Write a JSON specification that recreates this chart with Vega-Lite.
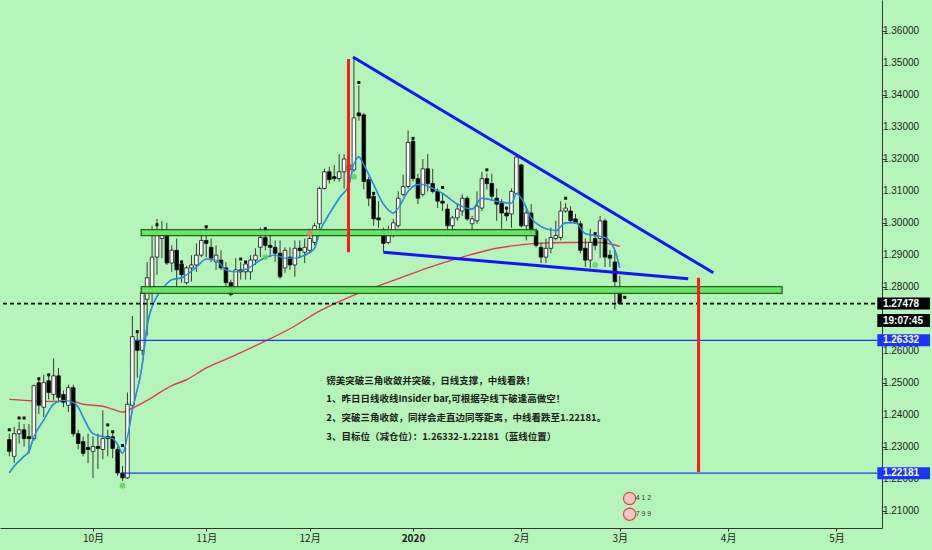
{
  "$schema": "https://vega.github.io/schema/vega-lite/v6.json",
  "width": 882,
  "height": 528,
  "autosize": {"type": "none"},
  "padding": {"left": 0, "top": 0, "right": 50, "bottom": 22},
  "background": "#b6f5b9",
  "config": {
    "view": {"stroke": null},
    "font": "Liberation Sans",
    "axis": {"grid": false},
    "axisX": {"labelOverlap": false}
  },
  "resolve": {"scale": {"color": "independent"}},
  "datasets": {
    "candles": [
      {"i": -17, "o": 1.23229, "h": 1.23413, "l": 1.22708, "c": 1.22862},
      {"i": -16, "o": 1.22708, "h": 1.23628, "l": 1.22494, "c": 1.23413},
      {"i": -15, "o": 1.23413, "h": 1.23781, "l": 1.23107, "c": 1.23536},
      {"i": -14, "o": 1.23536, "h": 1.23720, "l": 1.23015, "c": 1.23260},
      {"i": -13, "o": 1.23321, "h": 1.23720, "l": 1.22800, "c": 1.23260},
      {"i": -12, "o": 1.23260, "h": 1.24946, "l": 1.23199, "c": 1.24915},
      {"i": -11, "o": 1.25007, "h": 1.25160, "l": 1.24026, "c": 1.24302},
      {"i": -10, "o": 1.24241, "h": 1.25252, "l": 1.23934, "c": 1.25007},
      {"i": -9, "o": 1.25068, "h": 1.25252, "l": 1.24486, "c": 1.24700},
      {"i": -8, "o": 1.24639, "h": 1.25773, "l": 1.24455, "c": 1.25221},
      {"i": -7, "o": 1.25221, "h": 1.25467, "l": 1.24394, "c": 1.24547},
      {"i": -6, "o": 1.24639, "h": 1.24762, "l": 1.24241, "c": 1.24394},
      {"i": -5, "o": 1.24302, "h": 1.24946, "l": 1.24088, "c": 1.24854},
      {"i": -4, "o": 1.24854, "h": 1.24946, "l": 1.23321, "c": 1.23413},
      {"i": -3, "o": 1.23413, "h": 1.23536, "l": 1.22923, "c": 1.23107},
      {"i": -2, "o": 1.23168, "h": 1.23321, "l": 1.22708, "c": 1.22800},
      {"i": -1, "o": 1.22984, "h": 1.23413, "l": 1.22494, "c": 1.22923},
      {"i": 0, "o": 1.22862, "h": 1.23321, "l": 1.22034, "c": 1.23015},
      {"i": 1, "o": 1.23015, "h": 1.23413, "l": 1.22310, "c": 1.22954},
      {"i": 2, "o": 1.22923, "h": 1.24149, "l": 1.22616, "c": 1.23260},
      {"i": 3, "o": 1.23321, "h": 1.23536, "l": 1.22708, "c": 1.23260},
      {"i": 4, "o": 1.23321, "h": 1.23475, "l": 1.22647, "c": 1.22954},
      {"i": 5, "o": 1.22923, "h": 1.23015, "l": 1.22095, "c": 1.22187},
      {"i": 6, "o": 1.22187, "h": 1.22402, "l": 1.21942, "c": 1.22034},
      {"i": 7, "o": 1.22034, "h": 1.24700, "l": 1.22004, "c": 1.24333},
      {"i": 8, "o": 1.24302, "h": 1.27091, "l": 1.24149, "c": 1.26447},
      {"i": 9, "o": 1.26325, "h": 1.26631, "l": 1.25160, "c": 1.26018},
      {"i": 10, "o": 1.26018, "h": 1.27918, "l": 1.25865, "c": 1.27826},
      {"i": 11, "o": 1.27612, "h": 1.28777, "l": 1.26478, "c": 1.28286},
      {"i": 12, "o": 1.27980, "h": 1.29910, "l": 1.27520, "c": 1.28930},
      {"i": 13, "o": 1.28930, "h": 1.30125, "l": 1.28378, "c": 1.29665},
      {"i": 14, "o": 1.29512, "h": 1.30063, "l": 1.28899, "c": 1.29604},
      {"i": 15, "o": 1.29604, "h": 1.30002, "l": 1.28685, "c": 1.28746},
      {"i": 16, "o": 1.28746, "h": 1.29298, "l": 1.28470, "c": 1.29144},
      {"i": 17, "o": 1.29144, "h": 1.29512, "l": 1.27918, "c": 1.28531},
      {"i": 18, "o": 1.28715, "h": 1.28838, "l": 1.28133, "c": 1.28378},
      {"i": 19, "o": 1.28133, "h": 1.28654, "l": 1.28072, "c": 1.28593},
      {"i": 20, "o": 1.28593, "h": 1.28991, "l": 1.28164, "c": 1.28685},
      {"i": 21, "o": 1.28685, "h": 1.29359, "l": 1.28470, "c": 1.28991},
      {"i": 22, "o": 1.28991, "h": 1.29757, "l": 1.28930, "c": 1.29451},
      {"i": 23, "o": 1.29451, "h": 1.29880, "l": 1.28930, "c": 1.29359},
      {"i": 24, "o": 1.29236, "h": 1.29512, "l": 1.28777, "c": 1.28899},
      {"i": 25, "o": 1.28777, "h": 1.29298, "l": 1.28531, "c": 1.28991},
      {"i": 26, "o": 1.28838, "h": 1.29144, "l": 1.28531, "c": 1.28593},
      {"i": 27, "o": 1.28593, "h": 1.28777, "l": 1.28010, "c": 1.28133},
      {"i": 28, "o": 1.28133, "h": 1.28225, "l": 1.27704, "c": 1.27765},
      {"i": 29, "o": 1.27980, "h": 1.28899, "l": 1.27918, "c": 1.28531},
      {"i": 30, "o": 1.28531, "h": 1.28777, "l": 1.28225, "c": 1.28470},
      {"i": 31, "o": 1.28470, "h": 1.28777, "l": 1.28225, "c": 1.28715},
      {"i": 32, "o": 1.28470, "h": 1.28991, "l": 1.28225, "c": 1.28838},
      {"i": 33, "o": 1.28838, "h": 1.29206, "l": 1.28685, "c": 1.28991},
      {"i": 34, "o": 1.29236, "h": 1.29849, "l": 1.28930, "c": 1.29543},
      {"i": 35, "o": 1.29543, "h": 1.29757, "l": 1.29144, "c": 1.29298},
      {"i": 36, "o": 1.29298, "h": 1.29665, "l": 1.28930, "c": 1.29236},
      {"i": 37, "o": 1.29236, "h": 1.29451, "l": 1.28777, "c": 1.29052},
      {"i": 38, "o": 1.29052, "h": 1.29451, "l": 1.28256, "c": 1.28317},
      {"i": 39, "o": 1.28593, "h": 1.29236, "l": 1.28439, "c": 1.29144},
      {"i": 40, "o": 1.28930, "h": 1.29236, "l": 1.28531, "c": 1.28685},
      {"i": 41, "o": 1.28685, "h": 1.29451, "l": 1.28317, "c": 1.29206},
      {"i": 42, "o": 1.29206, "h": 1.29451, "l": 1.28899, "c": 1.29144},
      {"i": 43, "o": 1.29083, "h": 1.29512, "l": 1.28746, "c": 1.29236},
      {"i": 44, "o": 1.29144, "h": 1.29819, "l": 1.29052, "c": 1.29512},
      {"i": 45, "o": 1.29389, "h": 1.30002, "l": 1.29298, "c": 1.29910},
      {"i": 46, "o": 1.29972, "h": 1.31136, "l": 1.29819, "c": 1.31075},
      {"i": 47, "o": 1.31075, "h": 1.31688, "l": 1.31044, "c": 1.31596},
      {"i": 48, "o": 1.31596, "h": 1.31749, "l": 1.31228, "c": 1.31351},
      {"i": 49, "o": 1.31443, "h": 1.31811, "l": 1.31290, "c": 1.31382},
      {"i": 50, "o": 1.31382, "h": 1.32148, "l": 1.31290, "c": 1.31596},
      {"i": 51, "o": 1.31596, "h": 1.32148, "l": 1.31075, "c": 1.31994},
      {"i": 52, "o": 1.31657, "h": 1.31964, "l": 1.31535, "c": 1.31811},
      {"i": 53, "o": 1.31657, "h": 1.35182, "l": 1.31596, "c": 1.33282},
      {"i": 54, "o": 1.33435, "h": 1.34293, "l": 1.33190, "c": 1.33343},
      {"i": 55, "o": 1.33374, "h": 1.33435, "l": 1.31044, "c": 1.31290},
      {"i": 56, "o": 1.31351, "h": 1.31443, "l": 1.30523, "c": 1.30769},
      {"i": 57, "o": 1.30830, "h": 1.30922, "l": 1.29910, "c": 1.30125},
      {"i": 58, "o": 1.30156, "h": 1.30677, "l": 1.29849, "c": 1.30094},
      {"i": 59, "o": 1.29757, "h": 1.29849, "l": 1.29083, "c": 1.29359},
      {"i": 60, "o": 1.29389, "h": 1.29910, "l": 1.29328, "c": 1.29604},
      {"i": 61, "o": 1.29604, "h": 1.30125, "l": 1.29543, "c": 1.30002},
      {"i": 62, "o": 1.29910, "h": 1.30983, "l": 1.29849, "c": 1.30769},
      {"i": 63, "o": 1.30891, "h": 1.31504, "l": 1.30830, "c": 1.31136},
      {"i": 64, "o": 1.31136, "h": 1.32883, "l": 1.31075, "c": 1.32515},
      {"i": 65, "o": 1.32546, "h": 1.32669, "l": 1.31290, "c": 1.31382},
      {"i": 66, "o": 1.31382, "h": 1.31535, "l": 1.30585, "c": 1.30769},
      {"i": 67, "o": 1.30891, "h": 1.31994, "l": 1.30830, "c": 1.31688},
      {"i": 68, "o": 1.31688, "h": 1.32148, "l": 1.30983, "c": 1.31228},
      {"i": 69, "o": 1.31228, "h": 1.31688, "l": 1.30922, "c": 1.30983},
      {"i": 70, "o": 1.30983, "h": 1.31075, "l": 1.30462, "c": 1.30677},
      {"i": 71, "o": 1.30677, "h": 1.30922, "l": 1.30370, "c": 1.30615},
      {"i": 72, "o": 1.30431, "h": 1.30585, "l": 1.29604, "c": 1.29910},
      {"i": 73, "o": 1.29910, "h": 1.30217, "l": 1.29604, "c": 1.30156},
      {"i": 74, "o": 1.30156, "h": 1.30615, "l": 1.30063, "c": 1.30431},
      {"i": 75, "o": 1.30370, "h": 1.30891, "l": 1.30217, "c": 1.30769},
      {"i": 76, "o": 1.30769, "h": 1.30830, "l": 1.30063, "c": 1.30125},
      {"i": 77, "o": 1.29972, "h": 1.30217, "l": 1.29757, "c": 1.30125},
      {"i": 78, "o": 1.30063, "h": 1.30983, "l": 1.29972, "c": 1.30523},
      {"i": 79, "o": 1.30462, "h": 1.31596, "l": 1.30370, "c": 1.31382},
      {"i": 80, "o": 1.31382, "h": 1.31535, "l": 1.31044, "c": 1.31228},
      {"i": 81, "o": 1.31228, "h": 1.31535, "l": 1.30738, "c": 1.30830},
      {"i": 82, "o": 1.30769, "h": 1.31075, "l": 1.30063, "c": 1.30585},
      {"i": 83, "o": 1.30615, "h": 1.30738, "l": 1.29819, "c": 1.30309},
      {"i": 84, "o": 1.30309, "h": 1.30462, "l": 1.30063, "c": 1.30217},
      {"i": 85, "o": 1.30278, "h": 1.31075, "l": 1.29849, "c": 1.30983},
      {"i": 86, "o": 1.30922, "h": 1.32117, "l": 1.30891, "c": 1.32056},
      {"i": 87, "o": 1.31811, "h": 1.31841, "l": 1.29849, "c": 1.29910},
      {"i": 88, "o": 1.29910, "h": 1.30523, "l": 1.29451, "c": 1.30309},
      {"i": 89, "o": 1.30309, "h": 1.30585, "l": 1.29604, "c": 1.29665},
      {"i": 90, "o": 1.29757, "h": 1.29819, "l": 1.29236, "c": 1.29298},
      {"i": 91, "o": 1.29236, "h": 1.29389, "l": 1.28746, "c": 1.28930},
      {"i": 92, "o": 1.28930, "h": 1.29512, "l": 1.28746, "c": 1.29206},
      {"i": 93, "o": 1.29206, "h": 1.29849, "l": 1.29052, "c": 1.29543},
      {"i": 94, "o": 1.29512, "h": 1.30063, "l": 1.29451, "c": 1.29604},
      {"i": 95, "o": 1.29543, "h": 1.30677, "l": 1.29451, "c": 1.30370},
      {"i": 96, "o": 1.30370, "h": 1.30615, "l": 1.30309, "c": 1.30462},
      {"i": 97, "o": 1.30370, "h": 1.30523, "l": 1.30002, "c": 1.30063},
      {"i": 98, "o": 1.30125, "h": 1.30278, "l": 1.29972, "c": 1.30002},
      {"i": 99, "o": 1.29972, "h": 1.30063, "l": 1.29052, "c": 1.29144},
      {"i": 100, "o": 1.29206, "h": 1.29512, "l": 1.28623, "c": 1.28838},
      {"i": 101, "o": 1.28838, "h": 1.29819, "l": 1.28593, "c": 1.29389},
      {"i": 102, "o": 1.29512, "h": 1.29696, "l": 1.29144, "c": 1.29298},
      {"i": 103, "o": 1.29512, "h": 1.30217, "l": 1.28899, "c": 1.30063},
      {"i": 104, "o": 1.30063, "h": 1.30125, "l": 1.28623, "c": 1.28930},
      {"i": 105, "o": 1.28991, "h": 1.29144, "l": 1.28623, "c": 1.28899},
      {"i": 106, "o": 1.28777, "h": 1.29144, "l": 1.27305, "c": 1.28164},
      {"i": 107, "o": 1.27826, "h": 1.28347, "l": 1.27450, "c": 1.27478}
    ],
    "averages": [
      {"line": "fast", "i": -17, "p": 1.22187}, {"line": "fast", "i": -16, "p": 1.22402},
      {"line": "fast", "i": -14, "p": 1.22708}, {"line": "fast", "i": -13, "p": 1.22862},
      {"line": "fast", "i": -12, "p": 1.23321}, {"line": "fast", "i": -10, "p": 1.23842},
      {"line": "fast", "i": -8, "p": 1.24333}, {"line": "fast", "i": -6, "p": 1.24455},
      {"line": "fast", "i": -4, "p": 1.24394}, {"line": "fast", "i": -3, "p": 1.24241},
      {"line": "fast", "i": -2, "p": 1.23934}, {"line": "fast", "i": 0, "p": 1.23413},
      {"line": "fast", "i": 2, "p": 1.23321}, {"line": "fast", "i": 4, "p": 1.23260},
      {"line": "fast", "i": 5, "p": 1.23076}, {"line": "fast", "i": 6, "p": 1.22800},
      {"line": "fast", "i": 7, "p": 1.23321}, {"line": "fast", "i": 8, "p": 1.24149},
      {"line": "fast", "i": 10, "p": 1.25559}, {"line": "fast", "i": 11, "p": 1.26784},
      {"line": "fast", "i": 13, "p": 1.27704}, {"line": "fast", "i": 14, "p": 1.27918},
      {"line": "fast", "i": 16, "p": 1.28225}, {"line": "fast", "i": 18, "p": 1.28286},
      {"line": "fast", "i": 21, "p": 1.28623}, {"line": "fast", "i": 23, "p": 1.28868},
      {"line": "fast", "i": 25, "p": 1.28838}, {"line": "fast", "i": 27, "p": 1.28531},
      {"line": "fast", "i": 29, "p": 1.28470}, {"line": "fast", "i": 32, "p": 1.28623},
      {"line": "fast", "i": 34, "p": 1.28838}, {"line": "fast", "i": 37, "p": 1.28991},
      {"line": "fast", "i": 39, "p": 1.28899}, {"line": "fast", "i": 41, "p": 1.28899},
      {"line": "fast", "i": 43, "p": 1.28991}, {"line": "fast", "i": 45, "p": 1.29206},
      {"line": "fast", "i": 46, "p": 1.29696}, {"line": "fast", "i": 48, "p": 1.30278},
      {"line": "fast", "i": 50, "p": 1.30769}, {"line": "fast", "i": 52, "p": 1.31198},
      {"line": "fast", "i": 53, "p": 1.31841}, {"line": "fast", "i": 54, "p": 1.32056},
      {"line": "fast", "i": 55, "p": 1.31811}, {"line": "fast", "i": 57, "p": 1.31198},
      {"line": "fast", "i": 59, "p": 1.30585}, {"line": "fast", "i": 61, "p": 1.30309},
      {"line": "fast", "i": 62, "p": 1.30462}, {"line": "fast", "i": 64, "p": 1.30983},
      {"line": "fast", "i": 66, "p": 1.31198}, {"line": "fast", "i": 67, "p": 1.31198},
      {"line": "fast", "i": 69, "p": 1.31075}, {"line": "fast", "i": 71, "p": 1.30922},
      {"line": "fast", "i": 74, "p": 1.30585}, {"line": "fast", "i": 77, "p": 1.30431},
      {"line": "fast", "i": 79, "p": 1.30769}, {"line": "fast", "i": 82, "p": 1.30677},
      {"line": "fast", "i": 85, "p": 1.30615}, {"line": "fast", "i": 86, "p": 1.30922},
      {"line": "fast", "i": 87, "p": 1.30769}, {"line": "fast", "i": 89, "p": 1.30156},
      {"line": "fast", "i": 92, "p": 1.29819}, {"line": "fast", "i": 94, "p": 1.29757},
      {"line": "fast", "i": 96, "p": 1.30002}, {"line": "fast", "i": 98, "p": 1.30002},
      {"line": "fast", "i": 100, "p": 1.29665}, {"line": "fast", "i": 102, "p": 1.29604},
      {"line": "fast", "i": 104, "p": 1.29543}, {"line": "fast", "i": 106, "p": 1.29144},
      {"line": "fast", "i": 107, "p": 1.28600},
      {"line": "slow", "i": -17, "p": 1.24486}, {"line": "slow", "i": -14, "p": 1.24455},
      {"line": "slow", "i": -8, "p": 1.24425}, {"line": "slow", "i": -4, "p": 1.24425},
      {"line": "slow", "i": -2, "p": 1.24333}, {"line": "slow", "i": 2, "p": 1.24271},
      {"line": "slow", "i": 4, "p": 1.24179}, {"line": "slow", "i": 6, "p": 1.24088},
      {"line": "slow", "i": 8, "p": 1.24210}, {"line": "slow", "i": 11, "p": 1.24455},
      {"line": "slow", "i": 16, "p": 1.24915}, {"line": "slow", "i": 19, "p": 1.25099},
      {"line": "slow", "i": 23, "p": 1.25467}, {"line": "slow", "i": 28, "p": 1.25804},
      {"line": "slow", "i": 34, "p": 1.26233}, {"line": "slow", "i": 40, "p": 1.26692},
      {"line": "slow", "i": 46, "p": 1.27244}, {"line": "slow", "i": 51, "p": 1.27612},
      {"line": "slow", "i": 56, "p": 1.27918}, {"line": "slow", "i": 62, "p": 1.28256},
      {"line": "slow", "i": 68, "p": 1.28593}, {"line": "slow", "i": 75, "p": 1.28930},
      {"line": "slow", "i": 82, "p": 1.29206}, {"line": "slow", "i": 86, "p": 1.29298},
      {"line": "slow", "i": 90, "p": 1.29359}, {"line": "slow", "i": 97, "p": 1.29389},
      {"line": "slow", "i": 103, "p": 1.29389}, {"line": "slow", "i": 107, "p": 1.29267}
    ],
    "zones": [
      {"zone": "resistance", "i1": 9.8, "i2": 90.0, "p1": 1.29788, "p2": 1.29604},
      {"zone": "support", "i1": 9.8, "i2": 139.96, "p1": 1.28010, "p2": 1.27796}
    ],
    "levels": [
      {"i": 8.6, "p": 1.26332},
      {"i": 5.9, "p": 1.22181}
    ],
    "drawings": [
      {"seg": "upper", "k": 0, "i": 52.8, "p": 1.35182},
      {"seg": "upper", "k": 1, "i": 126.0, "p": 1.28439},
      {"seg": "lower", "k": 0, "i": 59.0, "p": 1.29083},
      {"seg": "lower", "k": 1, "i": 120.9, "p": 1.28256},
      {"seg": "range", "k": 0, "i": 51.9, "p": 1.35120},
      {"seg": "range", "k": 1, "i": 51.9, "p": 1.29083},
      {"seg": "projection", "k": 0, "i": 123.0, "p": 1.28286},
      {"seg": "projection", "k": 1, "i": 123.0, "p": 1.22218}
    ],
    "fractals": [
      {"i": -17, "p": 1.23536}, {"i": -15, "p": 1.23904}, {"i": -14, "p": 1.23904},
      {"i": -11, "p": 1.25130}, {"i": -9, "p": 1.25252}, {"i": 3, "p": 1.23689},
      {"i": 4, "p": 1.23475}, {"i": 6, "p": 1.23046}, {"i": 9, "p": 1.26600},
      {"i": 13, "p": 1.29941}, {"i": 18, "p": 1.28777}, {"i": 23, "p": 1.29880},
      {"i": 30, "p": 1.28868}, {"i": 31, "p": 1.28777}, {"i": 35, "p": 1.29819},
      {"i": 42, "p": 1.29175}, {"i": 54, "p": 1.34385}, {"i": 57, "p": 1.30922},
      {"i": 65, "p": 1.32638}, {"i": 71, "p": 1.31106}, {"i": 80, "p": 1.31657},
      {"i": 84, "p": 1.30462}, {"i": 96, "p": 1.30769}, {"i": 102, "p": 1.29665},
      {"i": 108, "p": 1.27673}
    ],
    "signals": [
      {"i": 6, "p": 1.21789, "kind": "up"},
      {"i": 35, "p": 1.28930, "kind": "up"},
      {"i": 44, "p": 1.29665, "kind": "down"},
      {"i": 53, "p": 1.31443, "kind": "up"},
      {"i": 102, "p": 1.28685, "kind": "up"}
    ],
    "priceScale": [
      {"p": 1.21}, {"p": 1.22}, {"p": 1.23}, {"p": 1.24}, {"p": 1.25}, {"p": 1.26},
      {"p": 1.28}, {"p": 1.29}, {"p": 1.30}, {"p": 1.31}, {"p": 1.32}, {"p": 1.33},
      {"p": 1.34}, {"p": 1.35}, {"p": 1.36}
    ],
    "tags": [
      {"p": 1.27478, "label": "1.27478", "kind": "last", "timer": "19:07:45"},
      {"p": 1.26332, "label": "1.26332", "kind": "target", "timer": ""},
      {"p": 1.22181, "label": "1.22181", "kind": "target", "timer": ""}
    ],
    "notes": [
      {"i": 47.4, "p": 1.25068, "text": "镑美突破三角收敛并突破，日线支撑，中线看跌！"},
      {"i": 47.4, "p": 1.24486, "text": "1、昨日日线收线Insider bar,可根据孕线下破逢高做空！"},
      {"i": 47.4, "p": 1.23904, "text": "2、突破三角收敛，同样会走直边同等距离，中线看跌至1.22181。"},
      {"i": 47.4, "p": 1.23321, "text": "3、目标位（减仓位）：1.26332-1.22181（蓝线位置）"}
    ],
    "events": [
      {"i": 109.0, "p": 1.21391, "text": "4 1 2"},
      {"i": 109.0, "p": 1.20900, "text": "7 9 9"}
    ]
  },
  "layer": [
    {
      "data": {"name": "averages"},
      "mark": {"type": "line", "strokeWidth": 1.4, "interpolate": "monotone"},
      "encoding": {
        "x": {
          "field": "i", "type": "quantitative",
          "scale": {"domain": [-17.87, 159.24], "nice": false, "zero": false},
          "axis": {
            "orient": "bottom", "title": null, "grid": false,
            "values": [0, 23, 44, 65, 87, 107, 129, 151],
            "labelExpr": "datum.value == 0 ? '10月' : datum.value == 23 ? '11月' : datum.value == 44 ? '12月' : datum.value == 65 ? '2020' : datum.value == 87 ? '2月' : datum.value == 107 ? '3月' : datum.value == 129 ? '4月' : '5月'",
            "labelFont": "Noto Sans CJK SC", "labelFontSize": 10, "labelColor": "#1a1a1a",
            "labelFontWeight": {"condition": {"test": "datum.value == 65", "value": "bold"}, "value": "normal"},
            "labelPadding": 2, "labelFlush": false, "labelOverlap": false,
            "tickSize": 3, "tickColor": "#333333", "domainColor": "#333333", "domainWidth": 1
          }
        },
        "y": {
          "field": "p", "type": "quantitative",
          "scale": {"domain": [1.20624, 1.36806], "nice": false, "zero": false},
          "axis": {
            "orient": "right", "title": null, "grid": false, "labels": false,
            "values": [1.21, 1.22, 1.23, 1.24, 1.25, 1.26, 1.28, 1.29, 1.30, 1.31, 1.32, 1.33, 1.34, 1.35, 1.36],
            "tickSize": 4, "tickColor": "#333333", "domainColor": "#333333", "domainWidth": 1
          }
        },
        "detail": {"field": "line"},
        "color": {"field": "line", "type": "nominal", "scale": {"domain": ["fast", "slow"], "range": ["#2a8ee6", "#e5384f"]}, "legend": null}
      }
    },
    {
      "data": {"name": "candles"},
      "mark": {"type": "rule", "color": "#3a3a3a", "strokeWidth": 1},
      "encoding": {
        "x": {"field": "i", "type": "quantitative"},
        "y": {"field": "l", "type": "quantitative"},
        "y2": {"field": "h"}
      }
    },
    {
      "data": {"name": "candles"},
      "mark": {"type": "bar", "size": 3.6, "stroke": "#111111", "strokeWidth": 0.8},
      "encoding": {
        "x": {"field": "i", "type": "quantitative"},
        "y": {"field": "o", "type": "quantitative"},
        "y2": {"field": "c"},
        "fill": {"condition": {"test": "datum.c >= datum.o", "value": "#ffffff"}, "value": "#000000"}
      }
    },
    {
      "data": {"name": "averages"},
      "transform": [{"filter": "datum.line == 'fast'"}],
      "mark": {"type": "line", "strokeWidth": 1.4, "interpolate": "monotone", "color": "#2a8ee6"},
      "encoding": {
        "x": {"field": "i", "type": "quantitative"},
        "y": {"field": "p", "type": "quantitative"}
      }
    },
    {
      "data": {"name": "zones"},
      "mark": {"type": "rect", "fill": "#62e862", "stroke": "#1f5a1f", "strokeWidth": 1.3, "opacity": 0.95},
      "encoding": {
        "x": {"field": "i1", "type": "quantitative"},
        "x2": {"field": "i2"},
        "y": {"field": "p1", "type": "quantitative"},
        "y2": {"field": "p2"}
      }
    },
    {
      "data": {"name": "levels"},
      "mark": {"type": "rule", "color": "#1f36ff", "strokeWidth": 1.3},
      "encoding": {
        "x": {"field": "i", "type": "quantitative"},
        "x2": {"datum": 159.24},
        "y": {"field": "p", "type": "quantitative"}
      }
    },
    {
      "data": {"name": "tags"},
      "transform": [{"filter": "datum.kind == 'last'"}],
      "mark": {"type": "rule", "color": "#000000", "strokeWidth": 1.6, "strokeDash": [4, 3]},
      "encoding": {
        "y": {"field": "p", "type": "quantitative"}
      }
    },
    {
      "data": {"name": "drawings"},
      "transform": [{"filter": "datum.seg == 'upper' || datum.seg == 'lower'"}],
      "mark": {"type": "line", "strokeWidth": 3, "color": "#1414ff"},
      "encoding": {
        "x": {"field": "i", "type": "quantitative"},
        "y": {"field": "p", "type": "quantitative"},
        "detail": {"field": "seg"},
        "order": {"field": "k"}
      }
    },
    {
      "data": {"name": "drawings"},
      "transform": [{"filter": "datum.seg == 'range' || datum.seg == 'projection'"}],
      "mark": {"type": "line", "strokeWidth": 3, "color": "#ff1a1a"},
      "encoding": {
        "x": {"field": "i", "type": "quantitative"},
        "y": {"field": "p", "type": "quantitative"},
        "detail": {"field": "seg"},
        "order": {"field": "k"}
      }
    },
    {
      "data": {"name": "fractals"},
      "mark": {"type": "point", "shape": "square", "filled": true, "size": 9, "color": "#111111", "opacity": 1},
      "encoding": {
        "x": {"field": "i", "type": "quantitative"},
        "y": {"field": "p", "type": "quantitative"}
      }
    },
    {
      "data": {"name": "signals"},
      "mark": {"type": "point", "shape": "circle", "filled": true, "size": 34, "opacity": 0.85},
      "encoding": {
        "x": {"field": "i", "type": "quantitative"},
        "y": {"field": "p", "type": "quantitative"},
        "color": {"field": "kind", "type": "nominal", "scale": {"domain": ["up", "down"], "range": ["#5cd65c", "#ee7b6e"]}, "legend": null}
      }
    },
    {
      "data": {"name": "notes"},
      "mark": {"type": "text", "align": "left", "baseline": "middle", "font": "Noto Sans CJK SC", "fontSize": 9.5, "fontWeight": "bold", "color": "#1c1c1c"},
      "encoding": {
        "x": {"field": "i", "type": "quantitative"},
        "y": {"field": "p", "type": "quantitative"},
        "text": {"field": "text"}
      }
    },
    {
      "data": {"name": "events"},
      "mark": {"type": "point", "shape": "circle", "filled": true, "size": 150, "fill": "#f4c7c7", "stroke": "#e04646", "strokeWidth": 1.2, "opacity": 1},
      "encoding": {
        "x": {"field": "i", "type": "quantitative"},
        "y": {"field": "p", "type": "quantitative"}
      }
    },
    {
      "data": {"name": "events"},
      "mark": {"type": "text", "align": "left", "baseline": "middle", "dx": 6, "fontSize": 7, "color": "#333333"},
      "encoding": {
        "x": {"field": "i", "type": "quantitative"},
        "y": {"field": "p", "type": "quantitative"},
        "text": {"field": "text"}
      }
    },
    {
      "data": {"name": "priceScale"},
      "mark": {"type": "text", "align": "left", "baseline": "middle", "font": "Liberation Sans", "fontSize": 10, "color": "#222222"},
      "encoding": {
        "x": {"datum": 160.45, "type": "quantitative"},
        "y": {"field": "p", "type": "quantitative"},
        "text": {"field": "p", "type": "quantitative", "format": ".5f"}
      }
    },
    {
      "data": {"name": "tags"},
      "mark": {"type": "bar", "size": 12},
      "encoding": {
        "x": {"datum": 159.3, "type": "quantitative"},
        "x2": {"datum": 170},
        "y": {"field": "p", "type": "quantitative"},
        "color": {"field": "kind", "type": "nominal", "scale": {"domain": ["last", "target"], "range": ["#000000", "#1a33ff"]}, "legend": null}
      }
    },
    {
      "data": {"name": "tags"},
      "transform": [{"filter": "datum.kind == 'last'"}],
      "mark": {"type": "bar", "size": 13, "yOffset": 17, "color": "#000000"},
      "encoding": {
        "x": {"datum": 159.3, "type": "quantitative"},
        "x2": {"datum": 170},
        "y": {"field": "p", "type": "quantitative"}
      }
    },
    {
      "data": {"name": "tags"},
      "mark": {"type": "text", "align": "left", "baseline": "middle", "font": "Liberation Sans", "fontSize": 10, "fontWeight": "bold", "color": "#ffffff"},
      "encoding": {
        "x": {"datum": 160.45, "type": "quantitative"},
        "y": {"field": "p", "type": "quantitative"},
        "text": {"field": "label"}
      }
    },
    {
      "data": {"name": "tags"},
      "transform": [{"filter": "datum.kind == 'last'"}],
      "mark": {"type": "text", "align": "left", "baseline": "middle", "dy": 17, "font": "Liberation Sans", "fontSize": 10, "fontWeight": "bold", "color": "#ffffff"},
      "encoding": {
        "x": {"datum": 160.45, "type": "quantitative"},
        "y": {"field": "p", "type": "quantitative"},
        "text": {"field": "timer"}
      }
    }
  ]
}
